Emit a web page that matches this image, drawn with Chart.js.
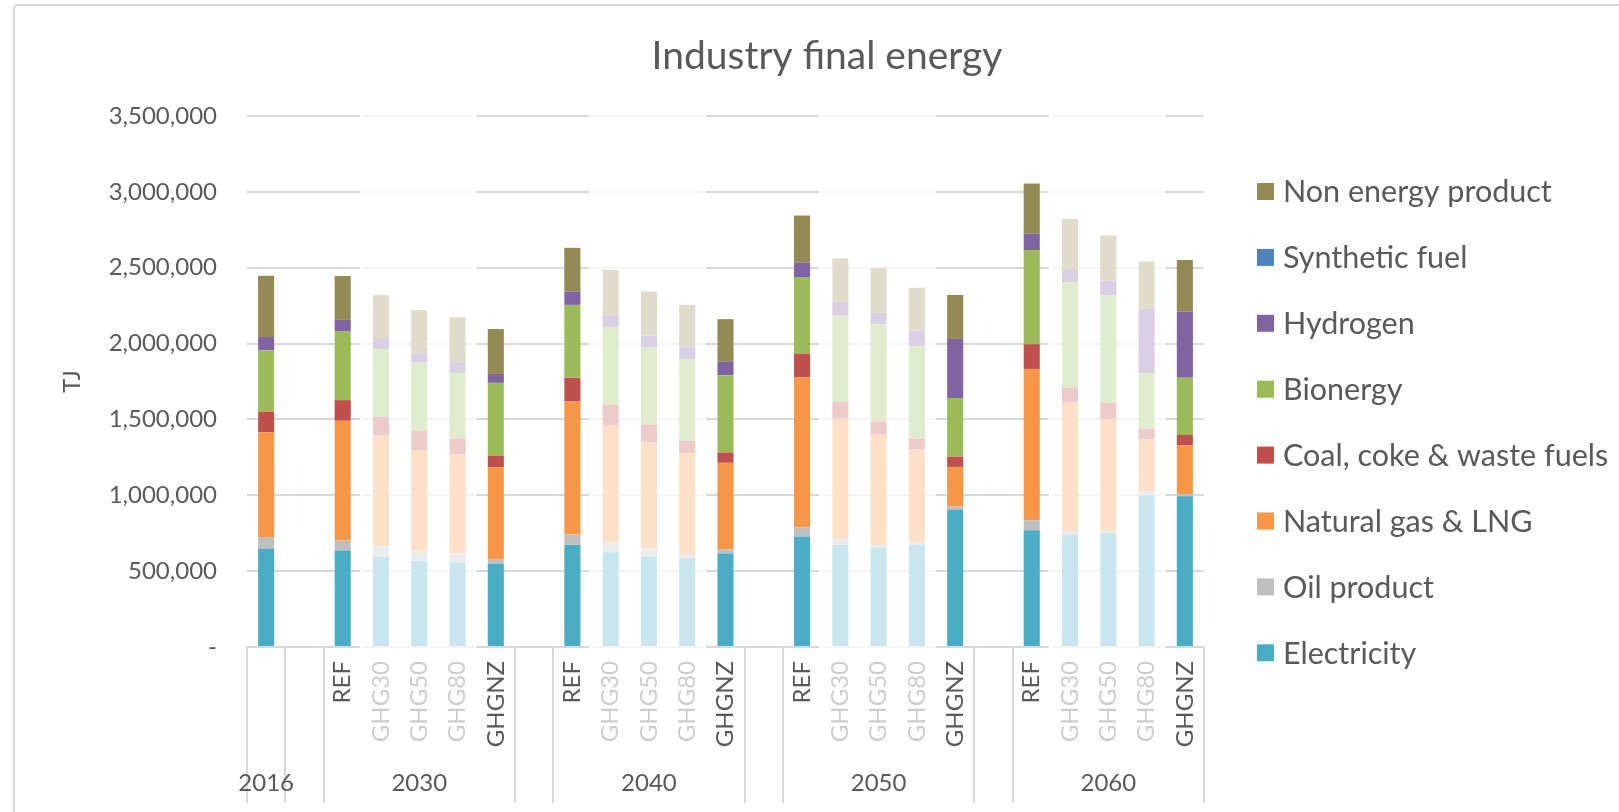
<!DOCTYPE html>
<html><head><meta charset="utf-8">
<script src="https://cdn.jsdelivr.net/npm/chart.js@4.4.1/dist/chart.umd.min.js"></script>
<style>html,body{margin:0;padding:0;background:#fff;overflow:hidden}canvas{display:block}</style>
</head><body>
<canvas id="c" width="1619" height="812" style="width:1619px;height:812px"></canvas>
<script>
// ---- categories ----
const scenarioLabels = ['', '',
  'REF','GHG30','GHG50','GHG80','GHGNZ', '',
  'REF','GHG30','GHG50','GHG80','GHGNZ', '',
  'REF','GHG30','GHG50','GHG80','GHGNZ', '',
  'REF','GHG30','GHG50','GHG80','GHGNZ'];
const yearLabels = ['2016', '', '2030', '', '2040', '', '2050', '', '2060'];
const yearGroupSizes = [1, 1, 5, 1, 5, 1, 5, 1, 5];
const fadedScenarios = ['GHG30', 'GHG50', 'GHG80'];

// ---- series values (TJ) ----
const electricity = [647000,null, 636000,596000,568000,559000,548000,null, 673000,624000,596000,587000,616000,null, 729000,674000,654000,676000,904000,null, 770000,741000,752000,1001000,993000];
const oilProduct  = [77000,null, 66000,68000,66000,57000,29000,null, 68000,66000,55000,26000,29000,null, 60000,38000,18000,15000,22000,null, 66000,24000,13000,24000,15000];
const naturalGas  = [691000,null, 789000,730000,664000,654000,607000,null, 877000,774000,699000,666000,569000,null, 988000,793000,727000,612000,261000,null, 997000,845000,737000,342000,322000];
const coal        = [134000,null, 136000,125000,125000,105000,77000,null, 156000,134000,114000,81000,68000,null, 157000,110000,88000,68000,68000,null, 163000,97000,108000,71000,68000];
const bioenergy   = [406000,null, 452000,443000,452000,432000,480000,null, 481000,512000,512000,539000,510000,null, 504000,570000,641000,610000,387000,null, 620000,697000,706000,366000,377000];
const hydrogen    = [88000,null, 77000,68000,61000,70000,59000,null, 88000,77000,77000,77000,88000,null, 97000,88000,75000,106000,389000,null, 108000,88000,99000,426000,434000];
const syntheticFuel = [0,null, 0,0,0,0,0,null, 0,0,0,0,0,null, 0,0,0,0,0,null, 0,0,0,0,0];
const nonEnergy   = [404000,null, 289000,289000,285000,296000,296000,null, 288000,299000,290000,279000,281000,null, 309000,289000,294000,281000,289000,null, 331000,329000,298000,311000,342000];

// ---- y ticks ----
const yMin = 0, yMax = 3500000, yStep = 500000;

const FONT = 'Lato';
const TEXT = '#595959';
const GRID = '#d9d9d9';

const series = [
  {label: 'Electricity', data: electricity, color: '#4BACC6'},
  {label: 'Oil product', data: oilProduct, color: '#BFBFBF'},
  {label: 'Natural gas & LNG', data: naturalGas, color: '#F79646'},
  {label: 'Coal, coke & waste fuels', data: coal, color: '#C0504D'},
  {label: 'Bionergy', data: bioenergy, color: '#9BBB59'},
  {label: 'Hydrogen', data: hydrogen, color: '#8064A2'},
  {label: 'Synthetic fuel', data: syntheticFuel, color: '#4F81BD'},
  {label: 'Non energy product', data: nonEnergy, color: '#948A54'}
];

const bgPlugin = {
  id: 'bg',
  beforeDraw(chart) {
    const ctx = chart.ctx;
    ctx.save();
    ctx.fillStyle = '#fff';
    ctx.fillRect(0, 0, chart.width, chart.height);
    ctx.strokeStyle = GRID;
    ctx.lineWidth = 2;
    ctx.beginPath();
    ctx.moveTo(14, chart.height);
    ctx.lineTo(14, 9);
    ctx.quadraticCurveTo(14, 5, 18, 5);
    ctx.lineTo(chart.width, 5);
    ctx.stroke();
    ctx.restore();
  }
};

function slotInfo(chart) {
  const xs = chart.scales.x;
  const w = xs.getPixelForValue(1) - xs.getPixelForValue(0);
  return {xs, w, left: i => xs.getPixelForValue(i) - w / 2};
}

const fadePlugin = {
  id: 'fade',
  afterDatasetsDraw(chart) {
    const {w, left} = slotInfo(chart);
    const ctx = chart.ctx;
    const top = chart.chartArea.top - 10;
    const bottom = 762;
    ctx.save();
    let i = 0;
    while (i < scenarioLabels.length) {
      if (fadedScenarios.includes(scenarioLabels[i])) {
        let j = i;
        while (j + 1 < scenarioLabels.length && fadedScenarios.includes(scenarioLabels[j + 1])) j++;
        const x0 = left(i), x1 = left(j) + w;
        ctx.fillStyle = 'rgba(255,255,255,0.7)';
        ctx.fillRect(x0 - 2, top, x1 - x0, bottom - top);
        ctx.fillStyle = '#fff';
        ctx.fillRect(x0 - 2, top, 2.5, bottom - top);
        ctx.fillRect(x1 - 3, top, 2.5, bottom - top);
        i = j + 1;
      } else i++;
    }
    ctx.restore();
  }
};

const groupAxisPlugin = {
  id: 'groupAxis',
  afterDraw(chart) {
    const {w, left} = slotInfo(chart);
    const ctx = chart.ctx;
    const y0 = chart.chartArea.bottom, y1 = 803;
    ctx.save();
    ctx.strokeStyle = GRID;
    ctx.lineWidth = 2;
    let idx = 0;
    const edges = [0];
    yearGroupSizes.forEach(s => { idx += s; edges.push(idx); });
    edges.forEach(e => {
      const x = Math.round(left(e)) ;
      ctx.beginPath(); ctx.moveTo(x, y0); ctx.lineTo(x, y1); ctx.stroke();
    });
    ctx.fillStyle = TEXT;
    ctx.font = '24px ' + FONT;
    ctx.textAlign = 'center';
    ctx.textBaseline = 'alphabetic';
    yearLabels.forEach((lab, g) => {
      if (!lab) return;
      const cx = (left(edges[g]) + left(edges[g + 1])) / 2;
      ctx.fillText(lab, cx, 791);
    });
    ctx.restore();
  }
};

const titlePlugin = {
  id: 'customTitle',
  afterDraw(chart) {
    const ctx = chart.ctx;
    ctx.save();
    ctx.fillStyle = TEXT;
    ctx.font = '39px ' + FONT;
    ctx.textAlign = 'center';
    ctx.textBaseline = 'alphabetic';
    ctx.fillText('Industry final energy', 827, 69);
    ctx.restore();
  }
};

const legendPlugin = {
  id: 'customLegend',
  afterDraw(chart) {
    const ctx = chart.ctx;
    const ds = chart.data.datasets;
    ctx.save();
    ctx.font = '30.5px ' + FONT;
    ctx.textAlign = 'left';
    ctx.textBaseline = 'alphabetic';
    for (let k = 0; k < ds.length; k++) {
      const d = ds[ds.length - 1 - k];
      const cy = 191.5 + k * 65.9;
      ctx.fillStyle = d.backgroundColor;
      ctx.fillRect(1257, cy - 8.5, 17, 17);
      ctx.fillStyle = TEXT;
      ctx.fillText(d.label, 1283, cy + 10.9);
    }
    ctx.restore();
  }
};

new Chart(document.getElementById('c'), {
  type: 'bar',
  data: {
    labels: scenarioLabels,
    datasets: series.map(s => ({
      label: s.label, data: s.data, backgroundColor: s.color,
      borderWidth: 0, barPercentage: 1, categoryPercentage: 0.42
    }))
  },
  options: {
    responsive: false,
    animation: false,
    devicePixelRatio: 1,
    layout: {padding: {left: 0, right: 415, top: 116, bottom: 0}},
    plugins: {legend: {display: false}, title: {display: false}, tooltip: {enabled: false}},
    scales: {
      x: {
        stacked: true,
        grid: {display: false, drawTicks: false},
        border: {display: true, color: GRID, width: 2},
        ticks: {autoSkip: false, maxRotation: 90, minRotation: 90, padding: 14,
                color: TEXT, font: {family: FONT, size: 24}},
        afterFit(scale) { scale.height = 165; }
      },
      y: {
        stacked: true,
        min: yMin, max: yMax,
        grid: {color: GRID, lineWidth: 2, drawTicks: false},
        border: {display: false},
        ticks: {stepSize: yStep, padding: 30, color: TEXT, font: {family: FONT, size: 24},
                callback: v => v === 0 ? '-' : v.toLocaleString('en-US')},
        title: {display: true, text: 'TJ', color: TEXT, font: {family: FONT, size: 24},
                padding: {top: 58, bottom: 0}},
        afterFit(scale) { scale.width = 247; }
      }
    }
  },
  plugins: [bgPlugin, fadePlugin, groupAxisPlugin, titlePlugin, legendPlugin]
});
</script>
</body></html>
